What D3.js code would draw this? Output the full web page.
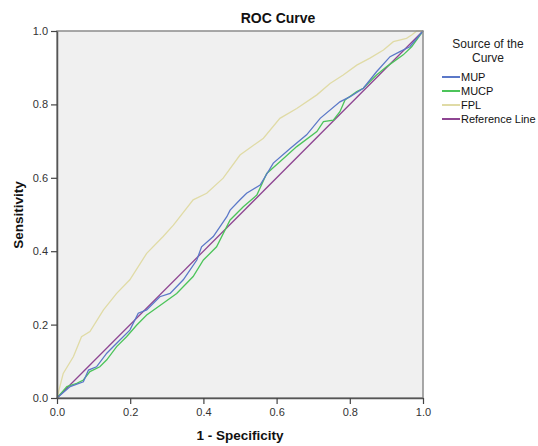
<!DOCTYPE html>
<html><head><meta charset="utf-8">
<script src="https://cdn.jsdelivr.net/npm/d3@7"></script>
<style>body{margin:0;background:#fff;} text{font-family:Arial,"Liberation Sans",sans-serif;}</style>
</head><body><svg id="c" width="538" height="446"></svg>
<script>
const ticks = [0, 0.2, 0.4, 0.6, 0.8, 1.0];
const seriesNames = ["MUP", "MUCP", "FPL", "Reference Line"];
const seriesColors = ["#5b78c8", "#4cc45a", "#e0dba6", "#8e4592"];
const mupX = [0,0.036,0.072,0.086,0.108,0.136,0.163,0.199,0.222,0.245,0.281,0.309,0.345,0.382,0.395,0.427,0.464,0.473,0.500,0.518,0.555,0.591,0.637,0.682,0.719,0.773,0.801,0.837,0.873,0.910,0.937,0.964,1];
const mupY = [0,0.031,0.044,0.076,0.085,0.122,0.149,0.185,0.231,0.240,0.276,0.285,0.322,0.376,0.412,0.440,0.494,0.512,0.540,0.558,0.580,0.640,0.680,0.717,0.762,0.807,0.821,0.844,0.889,0.930,0.944,0.957,1];
const mucpX = [0,0.027,0.054,0.072,0.090,0.117,0.136,0.163,0.190,0.218,0.245,0.290,0.327,0.372,0.400,0.436,0.473,0.509,0.546,0.573,0.609,0.655,0.710,0.728,0.755,0.773,0.787,0.819,0.837,0.873,0.901,0.946,0.969,1];
const mucpY = [0,0.031,0.040,0.049,0.072,0.085,0.104,0.140,0.167,0.199,0.226,0.258,0.285,0.331,0.376,0.412,0.485,0.521,0.553,0.612,0.644,0.685,0.726,0.753,0.757,0.780,0.812,0.835,0.844,0.880,0.903,0.935,0.957,1];
const fplX = [0,0.017,0.045,0.067,0.090,0.127,0.163,0.199,0.245,0.290,0.318,0.372,0.409,0.454,0.500,0.564,0.609,0.655,0.710,0.746,0.782,0.819,0.855,0.892,0.919,0.955,0.969,0.983,1];
const fplY = [0,0.067,0.113,0.167,0.181,0.240,0.285,0.322,0.394,0.440,0.471,0.540,0.558,0.599,0.662,0.708,0.762,0.789,0.826,0.857,0.880,0.907,0.926,0.948,0.971,0.980,0.989,1.0,1];
const refX = [0, 1];
const refY = [0, 1];

const svg = d3.select("#c");
const L = 57, R = 423, T = 31, B = 398;
const x = d3.scaleLinear().domain([0,1]).range([L,R]);
const y = d3.scaleLinear().domain([0,1]).range([B,T]);

svg.append("rect").attr("x",L).attr("y",T).attr("width",R-L).attr("height",B-T).attr("fill","#f0f0f0");

const line = d3.line().x(d=>x(d[0])).y(d=>y(d[1]));
const series = [[mupX,mupY],[mucpX,mucpY],[fplX,fplY],[refX,refY]];
const order = [2,3,1,0];
order.forEach(i=>{
  const pts = series[i][0].map((v,j)=>[v, series[i][1][j]]);
  svg.append("path").attr("d", line(pts)).attr("fill","none")
    .attr("stroke", seriesColors[i]).attr("stroke-width", 1.3);
});

// frame
svg.append("rect").attr("x",L).attr("y",T).attr("width",R-L).attr("height",B-T)
  .attr("fill","none").attr("stroke","#8c8c8c").attr("stroke-width",1.5);

const xa = svg.append("g").attr("transform",`translate(0,${B})`)
  .call(d3.axisBottom(x).tickValues(ticks).tickFormat(d3.format(".1f")).tickSize(6).tickSizeOuter(0));
const ya = svg.append("g").attr("transform",`translate(${L},0)`)
  .call(d3.axisLeft(y).tickValues(ticks).tickFormat(d3.format(".1f")).tickSize(6).tickSizeOuter(0));
[xa,ya].forEach(a=>{
  a.select(".domain").attr("stroke","#555").attr("stroke-width",1.5);
  a.selectAll(".tick line").attr("stroke","#444").attr("stroke-width",1.2);
  a.selectAll(".tick text").attr("font-size",11).attr("fill","#333").attr("font-family","Arial, 'Liberation Sans', sans-serif");
});
xa.selectAll(".tick text").attr("dy","0.85em");

svg.append("text").attr("x",278).attr("y",23).attr("text-anchor","middle")
  .attr("font-size",14).attr("font-weight","bold").attr("fill","#111").text("ROC Curve");
svg.append("text").attr("x",240).attr("y",440).attr("text-anchor","middle")
  .attr("font-size",13.5).attr("font-weight","bold").attr("fill","#111").text("1 - Specificity");
svg.append("text").attr("transform","translate(23,215) rotate(-90)").attr("text-anchor","middle")
  .attr("font-size",13.5).attr("font-weight","bold").attr("fill","#111").text("Sensitivity");

// legend
svg.append("text").attr("x",488).attr("y",48).attr("text-anchor","middle").attr("font-size",12).attr("fill","#222").text("Source of the");
svg.append("text").attr("x",488).attr("y",62).attr("text-anchor","middle").attr("font-size",12).attr("fill","#222").text("Curve");
seriesNames.forEach((n,i)=>{
  const yy = 77 + i*14;
  svg.append("line").attr("x1",442).attr("x2",460).attr("y1",yy).attr("y2",yy)
    .attr("stroke",seriesColors[i]).attr("stroke-width",2);
  svg.append("text").attr("x",461).attr("y",yy+4).attr("font-size",11).attr("fill","#111").text(n);
});
</script></body></html>
